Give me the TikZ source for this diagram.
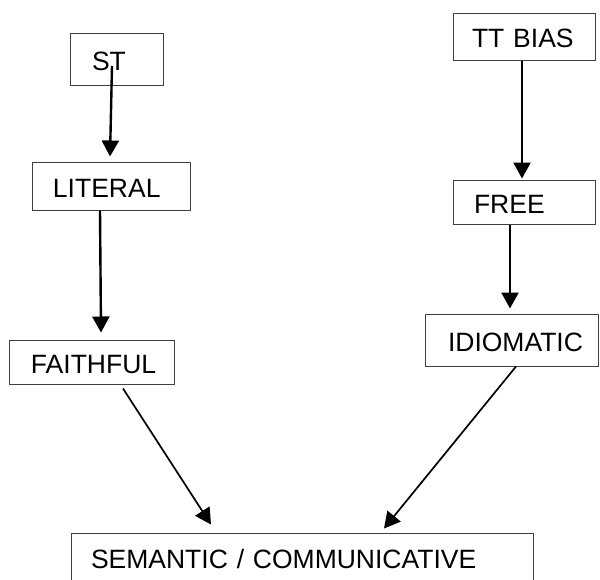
\documentclass[tikz,border=0pt]{standalone}
\usepackage{fontspec}
\setmainfont{Liberation Sans}
\usetikzlibrary{calc,arrows.meta}

\begin{document}
\begin{tikzpicture}[x=0.5pt,y=-0.5pt,
    box/.style={draw=black!75, line width=0.5pt, align=left,
        inner ysep=0pt, text height=11pt, text depth=0pt,
        font=\fontsize{13.25}{15}\selectfont},
    arr/.style={-{Triangle[length=8pt,width=8.5pt]}, line width=1.2pt},
    diag/.style={arr, line width=0.85pt}
]

% Page frame (pixel units)
\useasboundingbox (0,0) rectangle (600,579);

% --- Left column ---
\node[box, minimum width=46.5pt, minimum height=26pt,
      inner xsep=11pt, text width=24.5pt] (st) at (116.5,59) {ST};
\node[box, minimum width=79pt, minimum height=24pt,
      inner xsep=10.5pt, text width=58pt] (literal) at (111,186) {LITERAL};
\node[box, minimum width=82.5pt, minimum height=22pt,
      inner xsep=11pt, text width=60.5pt] (faithful) at (91.5,362) {FAITHFUL};

% --- Right column ---
\node[box, minimum width=71pt, minimum height=23.5pt,
      inner xsep=9.5pt, text width=52pt] (ttbias) at (524,36.5) {TT BIAS};
\node[box, minimum width=71pt, minimum height=22pt,
      inner xsep=10.5pt, text width=50pt] (free) at (524,202) {FREE};
\node[box, minimum width=86.5pt, minimum height=26pt,
      inner xsep=11.5pt, text width=63.5pt] (idiomatic) at (511.5,340) {IDIOMATIC};

% --- Bottom ---
\node[box, minimum width=231pt, minimum height=24pt,
      inner xsep=10pt, text width=211pt] (sem) at (302,557) {SEMANTIC / COMMUNICATIVE};

% --- Arrows ---
\draw[arr] ($(st.center)+(-4.5,7)$) -- ($(literal.north)+(-1,-5)$);
\draw[arr] ($(literal.south)+(-11,0)$) -- ($(faithful.north)+(9.5,-7)$);
\draw[arr] ($(ttbias.south)+(-2,0)$) -- ($(free.north)+(-2,-1)$);
\draw[arr] ($(free.south)+(-14,0)$) -- ($(idiomatic.north)+(-1.5,-5)$);
\draw[diag] ($(faithful.south)+(31.5,4)$) -- ($(sem.north)+(-91,-8)$);
\draw[diag] ($(idiomatic.south)+(4.5,0)$) -- ($(sem.north)+(82,-4)$);

\end{tikzpicture}
\end{document}
